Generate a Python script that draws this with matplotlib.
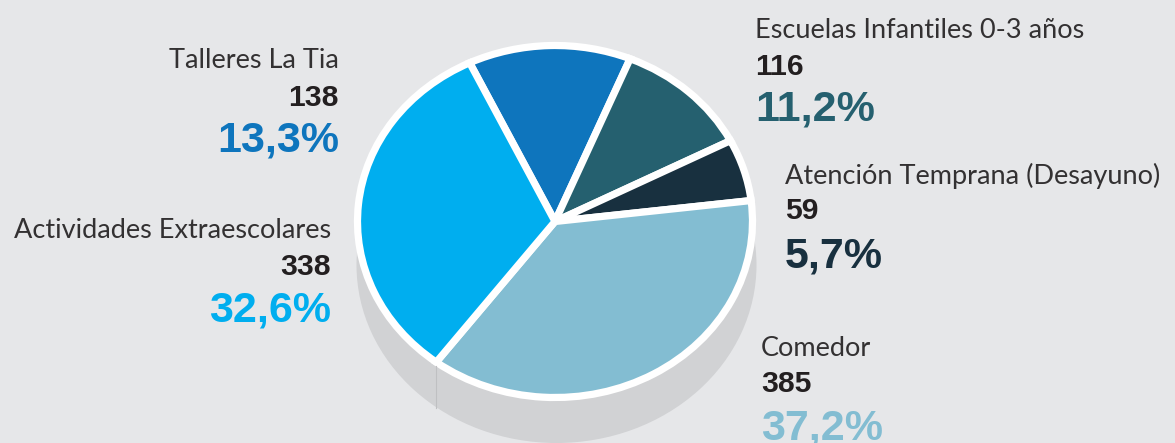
import matplotlib
matplotlib.use("Agg")
import matplotlib.pyplot as plt

categories = ["Talleres La Tia", "Escuelas Infantiles 0-3 años", "Atención Temprana (Desayuno)", "Comedor", "Actividades Extraescolares"]
counts = [138, 116, 59, 385, 338]
shares = ["13,3%", "11,2%", "5,7%", "37,2%", "32,6%"]
colors = ["#0e75bd", "#25606f", "#18303f", "#83bdd2", "#00aeef"]
W, H = 1175, 443
BG = "#e6e7e9"

fig = plt.figure(figsize=(W/100, H/100), dpi=100, facecolor=BG)
plt.rcParams['font.family'] = ['Liberation Sans', 'DejaVu Sans']

def pie_axes(cx, cy, rx, ry):
    return fig.add_axes([(cx-rx)/W, 1-(cy+ry)/H, 2*rx/W, 2*ry/H])

sh = pie_axes(556.5, 265, 200, 178)
sh.pie([1], colors=["#d1d2d4"], radius=1)
sh.set_xlim(-1, 1); sh.set_ylim(-1, 1); sh.set_aspect("auto")

ax = pie_axes(555, 221.5, 197.5, 176)
ax.pie(counts, colors=colors, startangle=115.6, counterclock=False, radius=1,
       wedgeprops=dict(edgecolor="white", linewidth=5.2))
ax.set_xlim(-1, 1); ax.set_ylim(-1, 1); ax.set_aspect("auto")
for w in ax.patches:
    w.set_clip_on(False)
fig.add_artist(plt.Line2D([436/W, 436/W], [1-366/H, 1-408/H], color="#bfc0c2", lw=0.8))

label_pos = [(339, "right", 68, 106, 152), (755, "left", 38, 75, 121), (785, "left", 184, 219, 267), (761, "left", 356, 392, 439), (331, "right", 238, 275, 321)]
for (x, ha, y1, y2, y3), cat, n, s, c in zip(label_pos, categories, counts, shares, colors):
    fig.text(x/W, 1-y1/H, cat, ha=ha, va="baseline", fontsize=19.5, color="#333132", family=["Lato", "DejaVu Sans"])
    fig.text(x/W, 1-y2/H, str(n), ha=ha, va="baseline", fontsize=21.7, fontweight="bold", color="#231f20")
    fig.text(x/W, 1-y3/H, s, ha=ha, va="baseline", fontsize=31, fontweight="bold", color=c)

fig.savefig("out.png", dpi=100, facecolor=BG)
